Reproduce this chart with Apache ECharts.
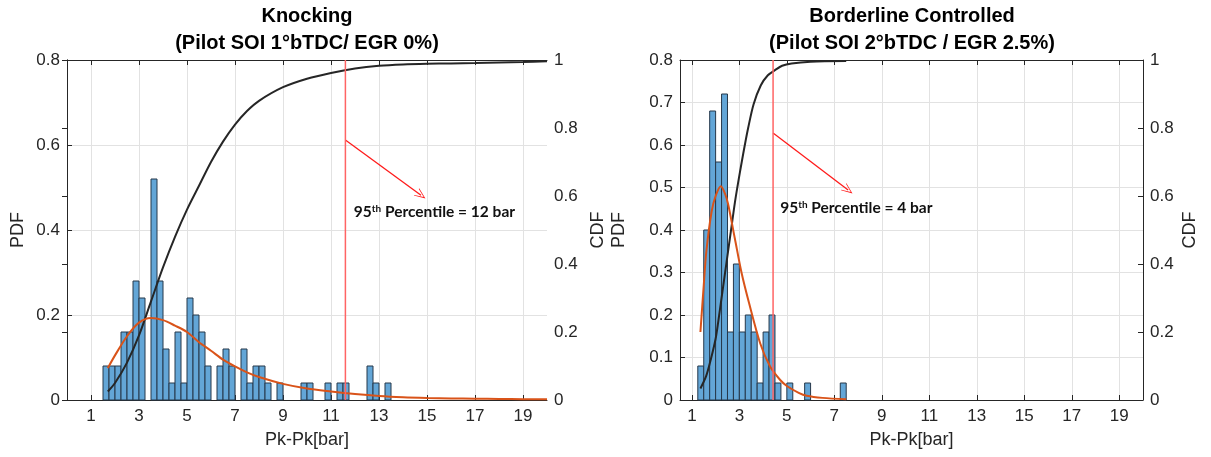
<!DOCTYPE html>
<html>
<head>
<meta charset="utf-8">
<script src="https://cdn.jsdelivr.net/npm/echarts@6/dist/echarts.min.js"></script>
<style>
  html, body { margin: 0; background: #fff; }
  #chart { width: 1211px; height: 457px; }
</style>
</head>
<body>
<div id="chart"></div>
<script>
// tick labels on the Pk-Pk axis
const xTicks = [1, 3, 5, 7, 9, 11, 13, 15, 17, 19];
const binWidth = 0.25;

// Knocking case (left)
const knockBinStart = 1.5;
const knockPdf = [0.08, 0.08, 0.08, 0.16, 0.16, 0.28, 0.24, 0, 0.52, 0.28, 0.12, 0.04, 0.16, 0.04, 0.24, 0.20,
  0.16, 0.08, 0, 0.08, 0.12, 0.08, 0, 0.12, 0.04, 0.08, 0.08, 0.04, 0, 0.04, 0, 0, 0, 0.04, 0.04, 0, 0, 0.04,
  0, 0.04, 0.04, 0, 0, 0, 0.08, 0.04, 0, 0.04];
const knockFitX = [1.7, 2.0, 2.5, 3.0, 3.5, 4.0, 4.5, 5.0, 5.5, 6.0, 6.5, 7.0, 7.5, 8.0, 9.0, 10.0, 11.0, 12.0, 13.0, 14.0, 15.0, 16.0, 17.0, 18.0, 19.0, 20.0];
const knockFitPdf = [0.075, 0.105, 0.15, 0.182, 0.193, 0.188, 0.175, 0.16, 0.136, 0.116, 0.095, 0.079, 0.065, 0.054, 0.038, 0.027, 0.02, 0.014, 0.0094, 0.0065, 0.0048, 0.0037, 0.003, 0.0024, 0.002, 0.0016];
const knockCdf = [0.025, 0.05, 0.11, 0.19, 0.29, 0.39, 0.48, 0.56, 0.63, 0.70, 0.76, 0.81, 0.85, 0.88, 0.92, 0.945, 0.962, 0.975, 0.983, 0.987, 0.989, 0.99, 0.991, 0.993, 0.994, 0.996];
const knockP95 = 11.6;
const knockArrow = [[11.6, 0.612], [14.75, 0.482]];
const knockNote = [11.95, 0.442];

// Borderline controlled case (right)
const borderBinStart = 1.25;
const borderPdf = [0.08, 0.40, 0.68, 0.56, 0.72, 0.16, 0.32, 0.16, 0.20, 0.16, 0.04, 0.16, 0.20, 0.04, 0, 0.04,
  0, 0, 0.04, 0, 0, 0, 0, 0, 0.04];
const borderFitX = [1.36, 1.5, 1.61, 1.83, 2.0, 2.22, 2.4, 2.53, 2.81, 3.09, 3.4, 3.88, 4.3, 4.72, 5.0, 5.5, 5.84, 6.5, 7.5];
const borderFitPdf = [0.16, 0.27, 0.35, 0.443, 0.48, 0.503, 0.485, 0.46, 0.38, 0.30, 0.23, 0.133, 0.078, 0.047, 0.033, 0.017, 0.01, 0.005, 0.0016];
const borderCdfX = [1.36, 1.6, 1.8, 2.0, 2.11, 2.25, 2.39, 2.53, 2.67, 2.81, 2.95, 3.1, 3.23, 3.37, 3.6, 3.9, 4.2, 4.5, 4.8, 5.2, 6.0, 7.5];
const borderCdf = [0.034, 0.07, 0.12, 0.18, 0.23, 0.30, 0.37, 0.44, 0.51, 0.58, 0.64, 0.70, 0.75, 0.80, 0.87, 0.925, 0.955, 0.97, 0.983, 0.99, 0.995, 0.997];
const borderP95 = 4.42;
const borderArrow = [[4.42, 0.628], [7.58, 0.494]];
const borderNote = [4.72, 0.452];

const AXIS = '#262626';
const FONT = 'Liberation Sans, Arial, sans-serif';
const NOTE_FONT = 'Lato, Open Sans, sans-serif';
const chevron = 'path://M0,0 L6,10 L5,10 L0,2 L-5,10 L-6,10 Z';

const pairs = (xs, ys) => xs.map((x, i) => [x, ys[i]]);

function xAxis(gridIndex, position, min) {
  const bottom = position === 'bottom';
  return {
    type: 'value', gridIndex, position, min, max: 20,
    name: bottom ? 'Pk-Pk[bar]' : '', nameLocation: 'middle', nameGap: 31,
    nameTextStyle: { color: AXIS, fontSize: 18, fontFamily: FONT },
    axisLine: { show: true, onZero: false, lineStyle: { color: AXIS } },
    axisTick: { show: true, inside: true, length: 5, customValues: xTicks, lineStyle: { color: AXIS } },
    axisLabel: { show: bottom, customValues: xTicks, color: AXIS, fontSize: 17, margin: 8, fontFamily: FONT },
    splitLine: { show: bottom, lineStyle: { color: '#e2e2e2' } },
  };
}

function yAxis(gridIndex, position, max, interval, name, nameGap, grid) {
  return {
    type: 'value', gridIndex, position, min: 0, max, interval,
    name, nameLocation: 'middle', nameGap, nameRotate: 90,
    nameTextStyle: { color: AXIS, fontSize: 18, fontFamily: FONT },
    axisLine: { show: true, lineStyle: { color: AXIS } },
    axisTick: { show: true, inside: true, length: 5, lineStyle: { color: AXIS } },
    axisLabel: { color: AXIS, fontSize: 17, margin: 7, fontFamily: FONT, formatter: (v) => String(+v.toFixed(2)) },
    splitLine: { show: grid, lineStyle: { color: '#e2e2e2' } },
  };
}

function histSeries(start, heights, xi, yi) {
  return {
    type: 'custom', xAxisIndex: xi, yAxisIndex: yi, z: 2,
    data: heights.map((h, i) => [start + i * binWidth, start + (i + 1) * binWidth, h]).filter((d) => d[2] > 0),
    encode: { x: [0, 1], y: 2 },
    renderItem: (params, api) => {
      const top = api.coord([api.value(0), api.value(2)]);
      const base = api.coord([api.value(1), 0]);
      return {
        type: 'rect',
        shape: { x: top[0], y: top[1], width: base[0] - top[0], height: base[1] - top[1] },
        style: { fill: '#63a6d7', stroke: '#26384a', lineWidth: 1 },
      };
    },
  };
}

function lineSeries(data, xi, yi, color, width) {
  return {
    type: 'line', xAxisIndex: xi, yAxisIndex: yi, data, showSymbol: false, smooth: 0.3, z: 4,
    lineStyle: { color, width }, silent: true,
  };
}

function noteSeries(xi, yi, p95, top, arrow, note, label) {
  return {
    type: 'line', xAxisIndex: xi, yAxisIndex: yi, data: [[p95, 0], [p95, top]], showSymbol: false, z: 5,
    lineStyle: { color: '#ff6464', width: 1.5 }, silent: true,
    markLine: {
      silent: true, symbol: ['none', chevron], symbolSize: [9, 11],
      lineStyle: { color: '#ff1a1a', width: 1.3, type: 'solid' }, label: { show: false },
      data: [[{ coord: arrow[0] }, { coord: arrow[1] }]],
    },
    markPoint: {
      silent: true, symbol: 'circle', symbolSize: 0,
      label: {
        show: true, position: 'right', distance: 0, formatter: `{b|95}{s|th}{b| Percentile = ${label}}`,
        rich: {
          b: { fontSize: 15.5, fontWeight: 'bold', color: '#111', fontFamily: NOTE_FONT },
          s: { fontSize: 10, fontWeight: 'bold', color: '#111', fontFamily: NOTE_FONT, padding: [0, 0, 7, 0] },
        },
      },
      data: [{ coord: note }],
    },
  };
}

const chart = echarts.init(document.getElementById('chart'));
chart.setOption({
  animation: false,
  backgroundColor: '#fff',
  graphic: [
    { type: 'text', x: 307, y: 3, style: { text: 'Knocking\n(Pilot SOI 1°bTDC/ EGR 0%)', textAlign: 'center', font: 'bold 20px Liberation Sans, Arial, sans-serif', lineHeight: 27, fill: '#000' } },
    { type: 'text', x: 912, y: 3, style: { text: 'Borderline Controlled\n(Pilot SOI 2°bTDC / EGR 2.5%)', textAlign: 'center', font: 'bold 20px Liberation Sans, Arial, sans-serif', lineHeight: 27, fill: '#000' } },
  ],
  grid: [
    { left: 67, right: 664, top: 60, height: 340 },
    { left: 680, right: 68, top: 60, height: 340 },
  ],
  xAxis: [xAxis(0, 'bottom', 0), xAxis(0, 'top', 0), xAxis(1, 'bottom', 0.5), xAxis(1, 'top', 0.5)],
  yAxis: [
    yAxis(0, 'left', 0.8, 0.2, 'PDF', 40, true),
    yAxis(0, 'right', 1, 0.2, 'CDF', 42, false),
    yAxis(1, 'left', 0.8, 0.1, 'PDF', 52, true),
    yAxis(1, 'right', 1, 0.2, 'CDF', 38, false),
  ],
  series: [
    histSeries(knockBinStart, knockPdf, 0, 0),
    lineSeries(pairs(knockFitX, knockCdf), 0, 1, '#262626', 2),
    lineSeries(pairs(knockFitX, knockFitPdf), 0, 0, '#d95319', 2),
    noteSeries(0, 0, knockP95, 0.8, knockArrow, knockNote, '12 bar'),
    histSeries(borderBinStart, borderPdf, 2, 2),
    lineSeries(pairs(borderCdfX, borderCdf), 2, 3, '#262626', 2),
    lineSeries(pairs(borderFitX, borderFitPdf), 2, 2, '#d95319', 2),
    noteSeries(2, 2, borderP95, 0.8, borderArrow, borderNote, '4 bar'),
  ],
});
</script>
</body>
</html>
